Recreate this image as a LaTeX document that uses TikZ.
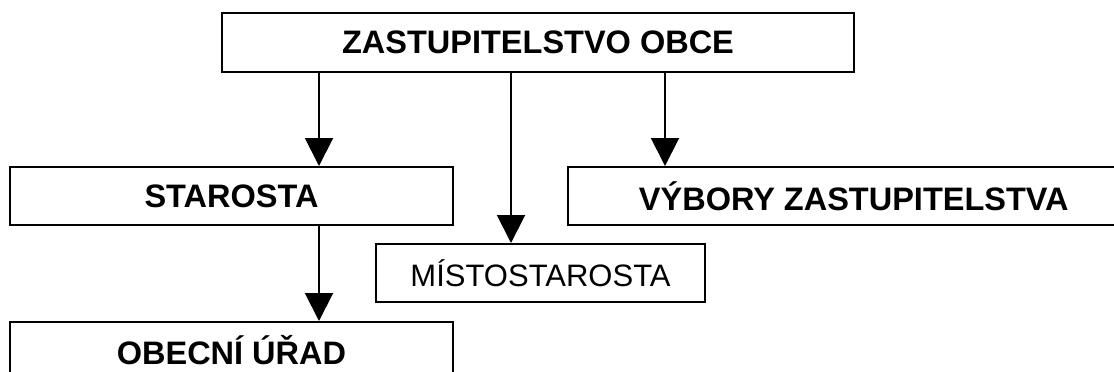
\documentclass[tikz,border=0pt]{standalone}
\usepackage{fontspec}
\setmainfont{Liberation Sans}
\usetikzlibrary{arrows.meta}

\tikzset{
  box/.style={draw, line width=2pt, inner sep=0pt, font=\bfseries\fontsize{32.5}{36}\selectfont},
  thinbox/.style={box, font=\fontsize{31}{36}\selectfont},
  arr/.style={line width=2pt, -{Triangle[width=28pt,length=28pt]}}
}

\begin{document}
\begin{tikzpicture}[x=1pt, y=-1pt]
            \useasboundingbox (0,0) rectangle (1114,372);

            % Zastupitelstvo
            \node[box, minimum width=632pt, minimum height=59pt] (zastup) at (538,42.5) {ZASTUPITELSTVO OBCE};

            % Druha uroven
            \node[box, minimum width=443pt, minimum height=58pt] (starosta) at (231.5,196) {STAROSTA};
            \node[box, minimum width=572pt, minimum height=58pt] (vybory) at (853.8,196) {VÝBORY ZASTUPITELSTVA};
            \node[thinbox, minimum width=329pt, minimum height=58pt] (misto) at (540.5,273) {MÍSTOSTAROSTA};

            % Urad
            \node[box, minimum width=443pt, minimum height=56pt] (urad) at (231.5,350) {OBECNÍ ÚŘAD};

            % Sipky
            \coordinate (s1) at ([xshift=87.5pt]starosta.north);
            \coordinate (m1) at ([xshift=-29.5pt]misto.north);
            \coordinate (v1) at ([xshift=-188.8pt]vybory.north);
            \draw[arr] (s1 |- zastup.south) -- (s1);
            \draw[arr] (m1 |- zastup.south) -- (m1);
            \draw[arr] (v1 |- zastup.south) -- (v1);
            \draw[arr] (s1 |- starosta.south) -- (s1 |- urad.north);
        \end{tikzpicture}
\end{document}
